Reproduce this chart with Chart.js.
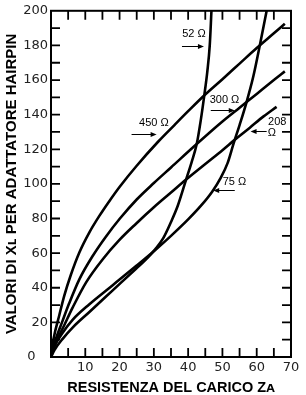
<!DOCTYPE html>
<html>
<head>
<meta charset="utf-8">
<script src="https://cdn.jsdelivr.net/npm/chart.js@4.4.1/dist/chart.umd.min.js"></script>
<style>
html,body{margin:0;padding:0;background:#fff;}
#wrap{width:306px;height:395px;position:relative;}
</style>
</head>
<body>
<div id="wrap"><canvas id="c"></canvas></div>
<script>
// ---- data ----
const r450X = [0, 0.8, 2.4, 3.9, 5.8, 8.3, 11.2, 14.1, 17, 20.1, 25, 31.3, 36, 40, 44.9, 50, 55, 60, 65, 68.2];
const r450Y = [0, 11, 24, 35.6, 47.5, 60.5, 72, 81.5, 90, 98.5, 110.5, 124.5, 134, 142, 151.5, 160.5, 169.5, 178.5, 187, 192.5];

const r300X = [0, 1.2, 3.4, 5.3, 8.3, 12.2, 16, 20.1, 25, 30, 35, 42.5, 50, 55, 60, 65, 68.2];
const r300Y = [0, 9, 21, 31, 45, 58.5, 69.5, 80, 91, 100.5, 109.5, 123, 136, 144, 152, 160, 165];

const r208X = [0, 1, 3.9, 6.3, 10.2, 15.1, 19.9, 24.8, 30, 35, 39.4, 45, 50, 53.3, 58, 62, 65.8];
const r208Y = [0, 6.5, 18.5, 28.5, 43, 56.5, 67.5, 77, 86.5, 95, 102.5, 111.5, 119.5, 125, 132.5, 139, 144.5];

const r75X = [0, 1, 3.4, 6.3, 11.2, 18, 24.8, 30.5, 35, 40, 44, 47, 49.5, 51.5, 53.2, 55, 57, 59, 61, 62.9];
const r75Y = [0, 6, 14, 21.5, 30.5, 41.5, 52.5, 62, 70, 79.5, 88, 95.5, 103.5, 112, 123, 134, 147, 162, 181, 200];

const r52X = [0, 1, 3.4, 6.3, 11.2, 18, 24.8, 27.5, 30.5, 32.7, 35, 37, 39.4, 41, 42.5, 43.7, 44.7, 45.6, 46.3, 46.8];
const r52Y = [0, 4, 10.5, 17, 26, 38.5, 51, 56, 62.5, 68.5, 78, 87.5, 102.5, 112.5, 123, 137, 151, 165, 180, 200];

const seriesNames = ['450 Ω', '300 Ω', '208 Ω', '75 Ω', '52 Ω'];
const xTickLabels = [10, 20, 30, 40, 50, 60, 70];
const yTickLabels = [0, 20, 40, 60, 80, 100, 120, 140, 160, 180, 200];

// curve labels with arrows (anchored in data units)
const labelTexts = ['52 Ω', '450 Ω', '300 Ω', '208', 'Ω', '75 Ω'];
const labelAtX   = [41.7, 30.0, 50.6, 66.0, 64.4, 53.5];
const labelAtY   = [186.6, 135.3, 148.5, 136.0, 129.6, 100.9];
const arrowFromX = [38.2, 23.5, 46.6, 62.9, 53.6];
const arrowToX   = [44.6, 30.8, 53.6, 58.2, 47.3];
const arrowAtY   = [179.7, 129.1, 142.6, 130.7, 96.5];

// ---- build ----
const pts = (xs, ys) => xs.map((x, i) => ({x: x, y: ys[i]}));
const allX = [r450X, r300X, r208X, r75X, r52X];
const allY = [r450Y, r300Y, r208Y, r75Y, r52Y];

const datasets = seriesNames.map((n, i) => ({
  label: n,
  data: pts(allX[i], allY[i]),
  showLine: true,
  borderColor: '#000',
  borderWidth: 2.6,
  pointRadius: 0,
  fill: false,
  cubicInterpolationMode: 'monotone',
  clip: 0
}));

const TXT = '"Liberation Sans", Arial, "DejaVu Sans", sans-serif';
const TICKF = '"DejaVu Sans", "Liberation Sans", sans-serif';

const frameTicks = {
  id: 'frameTicks',
  afterDatasetsDraw(chart) {
    const {ctx, chartArea: a, scales: {x, y}} = chart;
    ctx.save();
    ctx.strokeStyle = '#000';
    ctx.lineWidth = 1.8;
    ctx.beginPath();
    for (let v = 5; v < 70; v += 5) {
      const px = x.getPixelForValue(v);
      ctx.moveTo(px, a.bottom); ctx.lineTo(px, a.bottom - 9);
      ctx.moveTo(px, a.top); ctx.lineTo(px, a.top + 9);
    }
    for (let v = 10; v < 200; v += 10) {
      const py = y.getPixelForValue(v);
      ctx.moveTo(a.left, py); ctx.lineTo(a.left + 9, py);
      ctx.moveTo(a.right, py); ctx.lineTo(a.right - 9, py);
    }
    ctx.stroke();
    ctx.lineWidth = 2;
    ctx.strokeRect(a.left, a.top, a.right - a.left, a.bottom - a.top);

    // labels
    ctx.fillStyle = '#000';
    ctx.font = '11px ' + TXT;
    ctx.textAlign = 'center';
    ctx.textBaseline = 'middle';
    labelTexts.forEach((t, i) => {
      ctx.fillText(t, x.getPixelForValue(labelAtX[i]), y.getPixelForValue(labelAtY[i]));
    });
    // arrows
    ctx.lineWidth = 1;
    arrowFromX.forEach((fx, i) => {
      const x1 = x.getPixelForValue(fx), x2 = x.getPixelForValue(arrowToX[i]);
      const py = Math.round(y.getPixelForValue(arrowAtY[i])) + 0.5;
      const dir = Math.sign(x2 - x1);
      ctx.beginPath();
      ctx.moveTo(x1, py); ctx.lineTo(x2 - dir * 4, py);
      ctx.stroke();
      ctx.beginPath();
      ctx.moveTo(x2, py);
      ctx.lineTo(x2 - dir * 6, py - 2.5);
      ctx.lineTo(x2 - dir * 6, py + 2.5);
      ctx.closePath();
      ctx.fill();
    });
    ctx.restore();
  }
};

new Chart(document.getElementById('c'), {
  type: 'scatter',
  data: {datasets},
  options: {
    responsive: true,
    maintainAspectRatio: false,
    animation: false,
    layout: {padding: {top: 9, right: 15, left: 0, bottom: 0}},
    plugins: {legend: {display: false}, tooltip: {enabled: false}},
    scales: {
      x: {
        type: 'linear', min: 0, max: 70,
        afterFit: s => { s.height = 38; },
        afterBuildTicks: s => { s.ticks = xTickLabels.map(v => ({value: v})); },
        grid: {display: false, drawTicks: false},
        border: {display: false},
        ticks: {padding: 3, color: '#222', font: {family: TICKF, size: 13}, maxRotation: 0, autoSkip: false},
        title: {display: true, text: 'RESISTENZA DEL CARICO Zᴀ', color: '#000',
                font: {family: TXT, size: 14.5, weight: 'bold', lineHeight: 1}, padding: {top: 0, bottom: 0}}
      },
      y: {
        type: 'linear', min: 0, max: 200,
        afterFit: s => { s.width = 51; },
        afterBuildTicks: s => { s.ticks = yTickLabels.map(v => ({value: v})); },
        grid: {display: false, drawTicks: false},
        border: {display: false},
        ticks: {padding: 3, color: '#222', font: {family: TICKF, size: 13}, autoSkip: false,
                callback: v => v === 0 ? '0   ' : String(v)},
        title: {display: true, text: 'VALORI DI Xʟ PER ADATTATORE HAIRPIN', color: '#000',
                font: {family: TXT, size: 15, weight: 'bold', lineHeight: 1}, padding: {top: 4, bottom: 0}}
      }
    }
  },
  plugins: [frameTicks]
});
</script>
</body>
</html>
